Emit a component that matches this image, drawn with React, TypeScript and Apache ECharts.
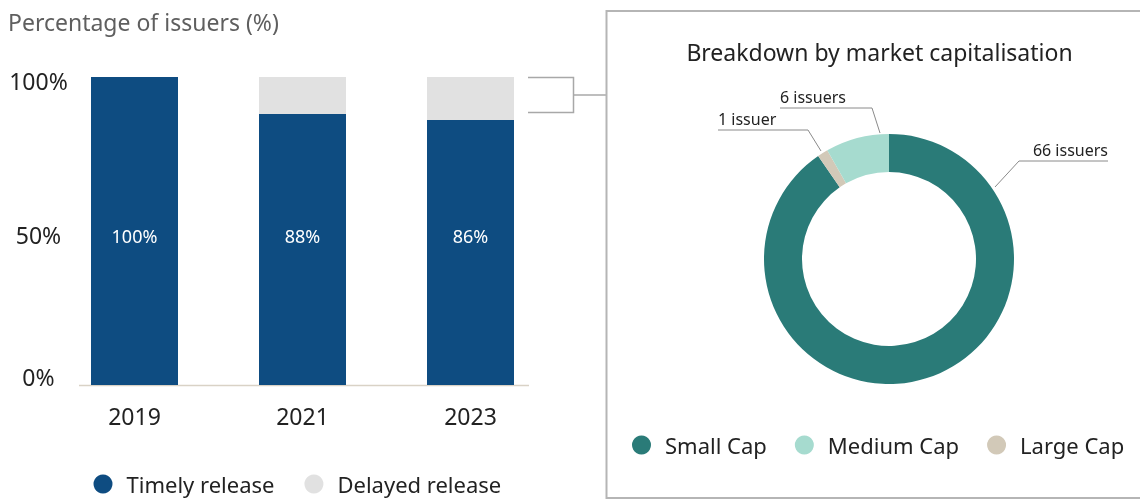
import React, { useEffect, useRef } from "react";
import * as echarts from "echarts";

const years = ["2019", "2021", "2023"];
const timely = [100, 88, 86];
const delayed = [0, 12, 14];

const capNames = ["Small Cap", "Large Cap", "Medium Cap"];
const capIssuers = [66, 1, 6];
const legendOrder = ["Small Cap", "Medium Cap", "Large Cap"];

const FONT = "Noto Sans";

// annotation placement for the donut labels (label anchor + leader line points)
const pieLabelLayout: Record<number, any> = {
  0: { x: 1108, y: 158, align: "right", pts: [[995, 187], [1019, 161], [1108, 161]] },
  1: { x: 718, y: 127, align: "left", pts: [[821, 151], [808, 130], [718, 130]] },
  2: { x: 780, y: 105, align: "left", pts: [[880, 133], [872, 108], [780, 108]] },
};

export default function App() {
  const ref = useRef<HTMLDivElement>(null);

  useEffect(() => {
    document.body.style.margin = "0";
    const chart = echarts.init(ref.current!, null, { renderer: "svg" });
    const option: any = {
      animation: false,
      textStyle: { fontFamily: FONT },
      grid: { left: 50.5, width: 504, top: 77, height: 308 },
      xAxis: {
        type: "category",
        data: years,
        axisLine: { show: false },
        axisTick: { show: false },
        axisLabel: { color: "#222", fontSize: 23, lineHeight: 23, margin: 19.5, fontFamily: FONT },
      },
      yAxis: {
        type: "value",
        min: 0,
        max: 100,
        interval: 50,
        splitLine: { show: false },
        axisLine: { show: false },
        axisTick: { show: false },
        axisLabel: {
          align: "center",
          margin: 12,
          formatter: (v: number) =>
            v === 0 ? `{z|${v}%}` : v === 50 ? `{m|${v}%}` : `{t|${v}%}`,
          rich: {
            z: { fontSize: 23, color: "#222", padding: [0, 0, 16, 0], fontFamily: FONT },
            m: { fontSize: 23, color: "#222", padding: [8, 0, 0, 0], fontFamily: FONT },
            t: { fontSize: 23, color: "#222", padding: [8, 0, 0, 0], fontFamily: FONT },
          },
        },
      },
      legend: [
        {
          data: ["Timely release", "Delayed release"],
          left: 93.5,
          top: 473,
          padding: 0,
          icon: "circle",
          itemWidth: 19,
          itemHeight: 19,
          itemGap: 30,
          textStyle: { fontSize: 22, color: "#222", padding: [0, 0, 0, 9], fontFamily: FONT },
        },
        {
          data: legendOrder,
          left: 632,
          top: 434,
          padding: 0,
          icon: "circle",
          itemWidth: 19,
          itemHeight: 19,
          itemGap: 28,
          textStyle: { fontSize: 22, color: "#222", padding: [0, 0, 0, 9], fontFamily: FONT },
        },
      ],
      series: [
        {
          name: "Timely release",
          type: "bar",
          stack: "s",
          data: timely,
          barWidth: 87,
          itemStyle: { color: "#0e4c81" },
          label: {
            show: true,
            position: "insideBottom",
            distance: 140,
            color: "#fff",
            fontSize: 18,
            fontFamily: FONT,
            formatter: (p: any) => `${p.value}%`,
          },
        },
        {
          name: "Delayed release",
          type: "bar",
          stack: "s",
          data: delayed,
          barWidth: 87,
          itemStyle: { color: "#e1e1e1" },
        },
        {
          type: "pie",
          center: [889, 259],
          radius: [87, 125],
          startAngle: 90,
          clockwise: true,
          data: capNames.map((n, i) => ({ name: n, value: capIssuers[i] })),
          color: ["#2a7b78", "#d2c9b8", "#a6dbcf"],
          label: {
            show: true,
            position: "outside",
            color: "#222",
            fontSize: 16,
            fontFamily: FONT,
            formatter: (p: any) => `${p.value} ${p.value === 1 ? "issuer" : "issuers"}`,
          },
          labelLine: { show: true, lineStyle: { color: "#8a8a8a", width: 1 } },
          labelLayout: (p: any) => {
            const l = pieLabelLayout[p.dataIndex];
            return {
              x: l.x,
              y: l.y,
              align: l.align,
              verticalAlign: "bottom",
              labelLinePoints: l.pts,
            };
          },
          emphasis: { disabled: true },
        },
      ],
      graphic: [
        {
          type: "text",
          x: 8,
          y: 22,
          style: {
            text: "Percentage of issuers (%)",
            fontSize: 23,
            fill: "#5f5f5f",
            fontFamily: FONT,
            textVerticalAlign: "middle",
          },
        },
        {
          type: "line",
          shape: { x1: 79, y1: 385.5, x2: 529, y2: 385.5 },
          style: { stroke: "#d9d2c6", lineWidth: 1.5 },
        },
        {
          type: "polyline",
          shape: { points: [[528, 77.5], [573.5, 77.5], [573.5, 112.5], [528, 112.5]] },
          style: { stroke: "#a8a8a8", lineWidth: 1.5, fill: null },
        },
        {
          type: "line",
          shape: { x1: 573.5, y1: 95, x2: 606, y2: 95 },
          style: { stroke: "#a8a8a8", lineWidth: 1.5 },
        },
        {
          type: "rect",
          shape: { x: 606.5, y: 11, width: 545, height: 487 },
          style: { stroke: "#b5b5b5", lineWidth: 2, fill: null },
        },
        {
          type: "text",
          x: 879.5,
          y: 52,
          style: {
            text: "Breakdown by market capitalisation",
            fontSize: 23,
            fill: "#222",
            fontFamily: FONT,
            textAlign: "center",
            textVerticalAlign: "middle",
          },
        },
      ],
    };
    chart.setOption(option);
    return () => chart.dispose();
  }, []);

  return (
    <div
      ref={ref}
      style={{ position: "fixed", left: 0, top: 0, width: 1140, height: 501 }}
    />
  );
}
